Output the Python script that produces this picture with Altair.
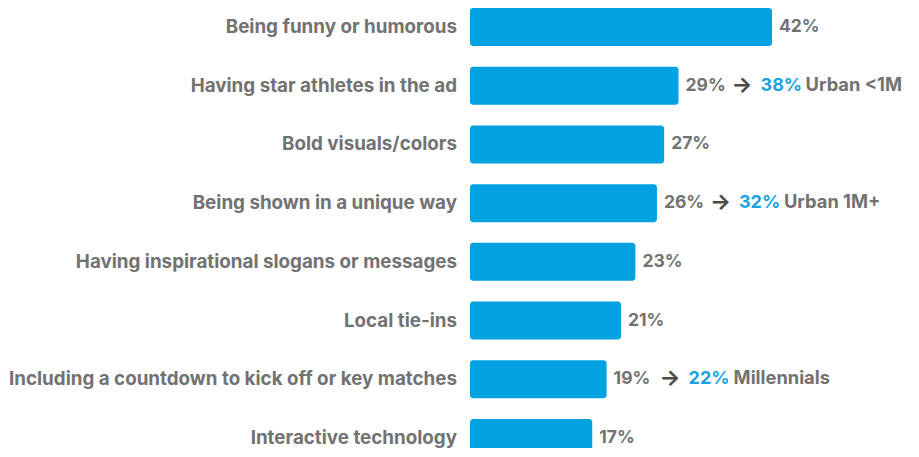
import altair as alt
import pandas as pd

categories = [
    "Being funny or humorous",
    "Having star athletes in the ad",
    "Bold visuals/colors",
    "Being shown in a unique way",
    "Having inspirational slogans or messages",
    "Local tie-ins",
    "Including a countdown to kick off or key matches",
    "Interactive technology",
]
values = [42, 29, 27, 26, 23, 21, 19, 17]

ann_categories = [
    "Having star athletes in the ad",
    "Being shown in a unique way",
    "Including a countdown to kick off or key matches",
]
ann_base = [29, 26, 19]
ann_values = ["38%", "32%", "22%"]
ann_groups = ["Urban <1M", "Urban 1M+", "Millennials"]

GRAY = "#727272"
BLUE = "#00a2e1"
BLUE_TEXT = "#1ba1e2"
FONT = "Inter"

df = pd.DataFrame({"category": categories, "value": values})
df["label"] = [f"{v}%" for v in values]
ann = pd.DataFrame({
    "category": ann_categories,
    "value": ann_base,
    "hi": ann_values,
    "group": ann_groups,
})

y = alt.Y("category:N", sort=categories, axis=None,
          scale=alt.Scale(range=[0, 449], paddingInner=0.353, paddingOuter=0))
x = alt.X("value:Q", axis=None, scale=alt.Scale(domain=[0, 42], range=[462, 764]))

bars = alt.Chart(df).mark_bar(color=BLUE, cornerRadiusEnd=3).encode(
    y=y, x=x, x2=alt.datum(0)
)

cat_text = alt.Chart(df).mark_text(
    align="right", baseline="middle", font=FONT, fontSize=18.8, fontWeight=700, color=GRAY
).encode(y=y, x=alt.value(449), text="category:N")

val_text = alt.Chart(df).mark_text(
    align="left", baseline="middle", dx=7, font=FONT, fontSize=17.5, fontWeight=700, color=GRAY
).encode(y=y, x=x, text="label:N")

D = 53
arrow = alt.Chart(ann).mark_text(
    align="left", baseline="middle", dx=D, dy=-1, font=FONT, fontSize=22, fontWeight=700,
    color="#4a4a4a"
).encode(y=y, x=x, text=alt.value("→"))

hi_text = alt.Chart(ann).mark_text(
    align="left", baseline="middle", dx=D + 29, font=FONT, fontSize=18, fontWeight=700,
    color=BLUE_TEXT
).encode(y=y, x=x, text="hi:N")

grp_text = alt.Chart(ann).mark_text(
    align="left", baseline="middle", dx=D + 74, font=FONT, fontSize=18.3, fontWeight=700,
    color=GRAY
).encode(y=y, x=x, text="group:N")

chart = alt.layer(bars, cat_text, val_text, arrow, hi_text, grp_text).properties(
    width=900, height=440, padding=0,
    autosize=alt.AutoSizeParams(type="none"),
    background="white",
).configure_view(stroke=None)

chart.save("out.html", embed_options={"renderer": "svg", "actions": False})
